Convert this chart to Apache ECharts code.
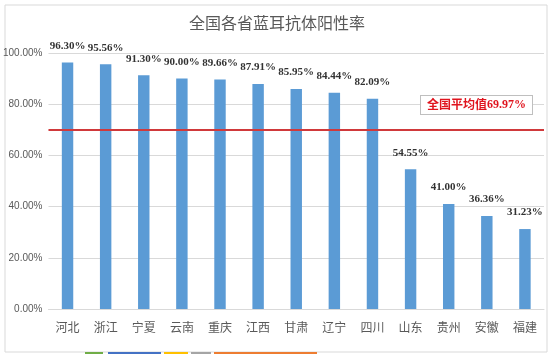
<!DOCTYPE html>
<html>
<head>
<meta charset="utf-8">
<script src="https://cdn.jsdelivr.net/npm/echarts@6/dist/echarts.min.js"></script>
<style>html,body{margin:0;padding:0;background:#fff;}#c{width:554px;height:358px;}</style>
</head>
<body>
<div id="c"></div>
<script>
const categories = ['河北','浙江','宁夏','云南','重庆','江西','甘肃','辽宁','四川','山东','贵州','安徽','福建'];
const positiveRate = [96.30, 95.56, 91.30, 90.00, 89.66, 87.91, 85.95, 84.44, 82.09, 54.55, 41.00, 36.36, 31.23];
const nationalAverage = 69.97;
const yTicks = [0, 20, 40, 60, 80, 100];

const chart = echarts.init(document.getElementById('c'), null, {renderer: 'canvas'});
const cjk = "'Noto Sans CJK SC', sans-serif";
const serif = "'Liberation Serif', 'Times New Roman', serif";
chart.setOption({
  animation: false,
  backgroundColor: '#fff',
  title: {
    text: '全国各省蓝耳抗体阳性率',
    left: 'center',
    top: 10,
    textStyle: {fontFamily: cjk, fontSize: 16, fontWeight: 'normal', color: '#595959'}
  },
  grid: {left: 48, right: 10, top: 53, bottom: 49},
  xAxis: {
    type: 'category',
    data: categories,
    axisLine: {lineStyle: {color: '#d9d9d9'}},
    axisTick: {show: false},
    axisLabel: {color: '#595959', fontSize: 12, fontFamily: cjk, margin: 12, interval: 0}
  },
  yAxis: {
    type: 'value',
    min: yTicks[0],
    max: yTicks[yTicks.length - 1],
    interval: yTicks[1] - yTicks[0],
    axisLine: {show: false},
    axisTick: {show: false},
    splitLine: {lineStyle: {color: '#d9d9d9'}},
    axisLabel: {
      color: '#595959', fontSize: 10, margin: 6,
      fontFamily: "'Liberation Sans Narrow', 'Liberation Sans', sans-serif",
      formatter: v => v.toFixed(2) + '%'
    }
  },
  series: [{
    type: 'bar',
    data: positiveRate,
    barWidth: '30%',
    itemStyle: {color: '#5b9bd5'},
    label: {
      show: true, position: 'top', distance: 11,
      fontFamily: serif, fontWeight: 'bold', fontSize: 11, color: '#333',
      formatter: p => p.value.toFixed(2) + '%'
    },
    markLine: {
      silent: true,
      symbol: 'none',
      lineStyle: {color: '#d0393b', width: 2, type: 'solid'},
      data: [{yAxis: nationalAverage}],
      label: {
        position: 'insideEndTop',
        offset: [-7, -11],
        backgroundColor: '#fff',
        borderColor: '#bfbfbf',
        borderWidth: 1,
        padding: [3, 6, 3, 6],
        formatter: () => '{a|全国平均值}{b|' + nationalAverage.toFixed(2) + '%}',
        rich: {
          a: {fontFamily: cjk, fontWeight: 'bold', fontSize: 12, color: '#e0141e'},
          b: {fontFamily: serif, fontWeight: 'bold', fontSize: 12, color: '#e0141e'}
        }
      }
    }
  }],
  graphic: [
    {type: 'rect', shape: {x: 5, y: 5, width: 542, height: 347}, style: {fill: 'none', stroke: '#d9d9d9', lineWidth: 1}, silent: true},
    {type: 'line', shape: {x1: 85, y1: 353, x2: 103, y2: 353}, style: {stroke: '#70ad47', lineWidth: 2}, silent: true},
    {type: 'line', shape: {x1: 108, y1: 353, x2: 161, y2: 353}, style: {stroke: '#4472c4', lineWidth: 2}, silent: true},
    {type: 'line', shape: {x1: 164, y1: 353, x2: 188, y2: 353}, style: {stroke: '#ffc000', lineWidth: 2}, silent: true},
    {type: 'line', shape: {x1: 191, y1: 353, x2: 211, y2: 353}, style: {stroke: '#a5a5a5', lineWidth: 2}, silent: true},
    {type: 'line', shape: {x1: 214, y1: 353, x2: 317, y2: 353}, style: {stroke: '#ed7d31', lineWidth: 2}, silent: true}
  ]
});
</script>
</body>
</html>
